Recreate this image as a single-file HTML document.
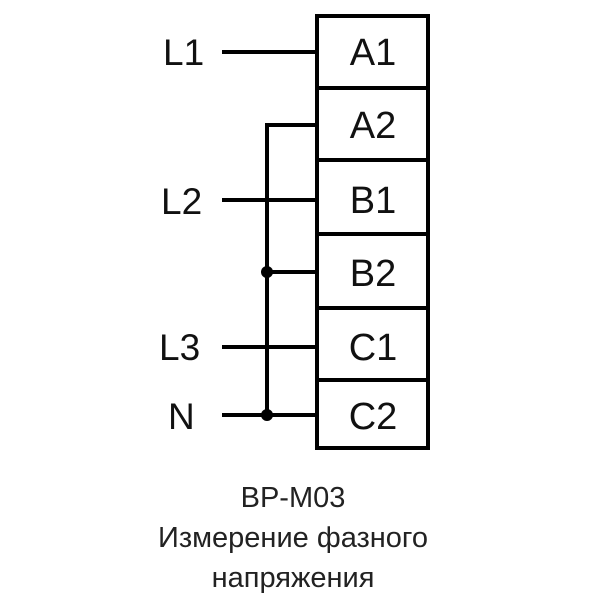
<!DOCTYPE html>
<html><head><style>body{margin:0;background:#fff}</style></head><body>
<svg width="600" height="600" xmlns="http://www.w3.org/2000/svg" font-family="Liberation Sans, sans-serif">
<rect width="600" height="600" fill="#fff"/>
<g stroke="#000" stroke-width="4" fill="none">
<rect x="317" y="16" width="111" height="432"/>
<line x1="317" y1="88" x2="428" y2="88"/>
<line x1="317" y1="160" x2="428" y2="160"/>
<line x1="317" y1="234" x2="428" y2="234"/>
<line x1="317" y1="308" x2="428" y2="308"/>
<line x1="317" y1="380" x2="428" y2="380"/>
<line x1="222" y1="52" x2="317" y2="52"/>
<line x1="267" y1="125" x2="317" y2="125"/>
<line x1="222" y1="200" x2="317" y2="200"/>
<line x1="267" y1="272" x2="317" y2="272"/>
<line x1="222" y1="347" x2="317" y2="347"/>
<line x1="222" y1="415" x2="317" y2="415"/>
<line x1="267" y1="123" x2="267" y2="415"/>
</g>
<circle cx="267" cy="272" r="6"/>
<circle cx="267" cy="415" r="6"/>
<g font-size="37" fill="#111">
<text x="163" y="65">L1</text>
<text x="161" y="214">L2</text>
<text x="159" y="360">L3</text>
<text x="168" y="429">N</text>
</g>
<g font-size="38" fill="#111" text-anchor="middle">
<text x="373" y="65">A1</text>
<text x="373" y="138">A2</text>
<text x="373" y="213">B1</text>
<text x="373" y="286">B2</text>
<text x="373" y="360">C1</text>
<text x="373" y="429">C2</text>
</g>
<g font-size="29" fill="#222" text-anchor="middle">
<text x="293" y="507">BP-M03</text>
<text x="293" y="547">Измерение фазного</text>
<text x="293" y="587">напряжения</text>
</g>
</svg>
</body></html>
